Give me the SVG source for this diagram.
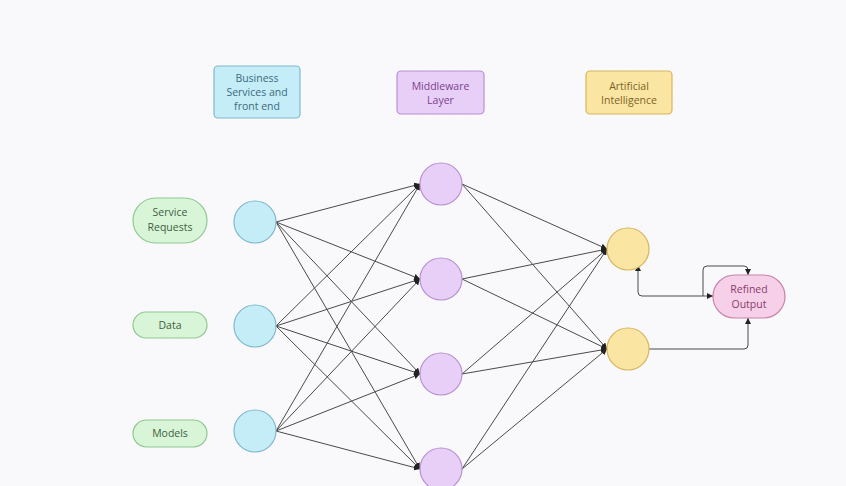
<svg xmlns="http://www.w3.org/2000/svg" width="846" height="486" viewBox="0 0 846 486">
<defs>
<pattern id="dots" width="16" height="16" patternUnits="userSpaceOnUse"><circle cx="2" cy="2" r="0.8" fill="#eceef2"/></pattern>
<marker id="arr" viewBox="0 0 10 10" refX="10" refY="5" markerWidth="6" markerHeight="6" orient="auto-start-reverse" markerUnits="userSpaceOnUse"><path d="M0,0 L10,5 L0,10 z" fill="#222"/></marker>
</defs>
<style>
text{font-family:"Open Sans","Noto Sans",sans-serif;font-size:10.5px;text-anchor:middle}
.c{stroke:#4a4a4a;stroke-width:1;fill:none}
.ca{stroke:#4a4a4a;stroke-width:1;fill:none;marker-end:url(#arr)}
.blue{fill:#c5edf8;stroke:#80b8cc;stroke-width:1.2}
.purp{fill:#e8cff8;stroke:#b890d2;stroke-width:1.2}
.yel{fill:#fbe5a2;stroke:#d6b65e;stroke-width:1.2}
.grn{fill:#d8f5d8;stroke:#90c890;stroke-width:1.2}
.pink{fill:#f6d0e8;stroke:#c684aa;stroke-width:1.2}
.tb{fill:#3d6b7c}.tp{fill:#7b3f8c}.ty{fill:#7a6428}.tg{fill:#3f5e3f}.tk{fill:#8a3c6c}
</style>
<rect width="846" height="486" fill="#f9f9fb"/>
<rect width="846" height="486" fill="url(#dots)"/>
<g id="connectors">
<path class="ca" d="M276,222 L420,184"/><path class="ca" d="M276,222 L420,279"/><path class="ca" d="M276,222 L420,374"/><path class="ca" d="M276,222 L420,469"/>
<path class="ca" d="M276,326 L420,184"/><path class="ca" d="M276,326 L420,279"/><path class="ca" d="M276,326 L420,374"/><path class="ca" d="M276,326 L420,469"/>
<path class="ca" d="M276,431 L420,184"/><path class="ca" d="M276,431 L420,279"/><path class="ca" d="M276,431 L420,374"/><path class="ca" d="M276,431 L420,469"/>
<path class="ca" d="M462,184 L607,249"/><path class="ca" d="M462,184 L607,349"/>
<path class="ca" d="M462,279 L607,249"/><path class="ca" d="M462,279 L607,349"/>
<path class="ca" d="M462,374 L607,249"/><path class="ca" d="M462,374 L607,349"/>
<path class="ca" d="M462,469 L607,249"/><path class="ca" d="M462,469 L607,349"/>
<path class="ca" d="M638,265 L638,292 Q638,296 642,296 L713,296" style="marker-start:url(#arr)"/>
<path class="ca" d="M703,296 L703,270 Q703,266 707,266 L744,266 Q748,266 748,270 L748,275"/>
<path class="ca" d="M649,349 L744,349 Q748,349 748,345 L748,318"/>
</g>
<g id="label-business"><rect class="blue" x="214" y="66" width="86" height="52" rx="4"/><text class="tb" x="257" y="82">Business</text><text class="tb" x="257" y="96">Services and</text><text class="tb" x="257" y="110">front end</text></g>
<g id="label-middleware"><rect class="purp" x="397" y="71" width="87" height="43" rx="4"/><text class="tp" x="440.5" y="90">Middleware</text><text class="tp" x="440.5" y="104">Layer</text></g>
<g id="label-ai"><rect class="yel" x="586" y="71" width="86" height="43" rx="4"/><text class="ty" x="629" y="90">Artificial</text><text class="ty" x="629" y="104">Intelligence</text></g>
<g id="service-requests"><rect class="grn" x="133" y="198" width="74" height="45" rx="22.5"/><text class="tg" x="170" y="216">Service</text><text class="tg" x="170" y="231">Requests</text></g>
<g id="data"><rect class="grn" x="133" y="312" width="74" height="26" rx="13"/><text class="tg" x="170" y="329">Data</text></g>
<g id="models"><rect class="grn" x="133" y="420" width="74" height="27" rx="13.5"/><text class="tg" x="170" y="437">Models</text></g>
<g id="b1"><circle class="blue" cx="255" cy="222" r="21"/></g>
<g id="b2"><circle class="blue" cx="255" cy="326" r="21"/></g>
<g id="b3"><circle class="blue" cx="255" cy="431" r="21"/></g>
<g id="p1"><circle class="purp" cx="441" cy="184" r="21"/></g>
<g id="p2"><circle class="purp" cx="441" cy="279" r="21"/></g>
<g id="p3"><circle class="purp" cx="441" cy="374" r="21"/></g>
<g id="p4"><circle class="purp" cx="441" cy="469" r="21"/></g>
<g id="y1"><circle class="yel" cx="628" cy="249" r="21"/></g>
<g id="y2"><circle class="yel" cx="628" cy="349" r="21"/></g>
<g id="refined-output"><rect class="pink" x="713" y="275" width="72" height="43" rx="21.5"/><text class="tk" x="749" y="293">Refined</text><text class="tk" x="749" y="308">Output</text></g>
</svg>
